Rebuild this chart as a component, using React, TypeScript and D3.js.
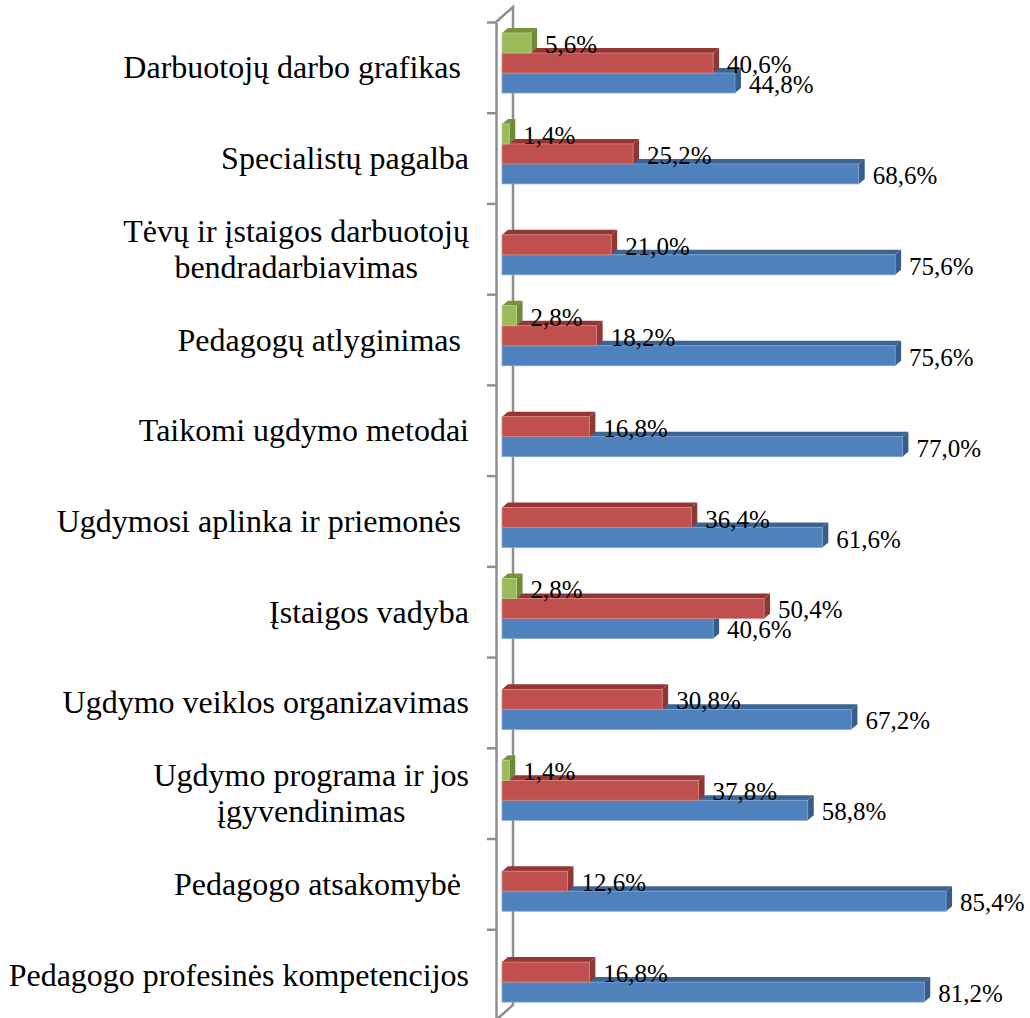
import React, { useEffect, useRef } from "react";
import * as d3 from "d3";

// category labels, top to bottom ("\n" = line break, trailing spaces kept as in source)
const categories = [
  "Darbuotojų darbo grafikas ",
  "Specialistų pagalba",
  "Tėvų ir įstaigos darbuotojų\nbendradarbiavimas",
  "Pedagogų atlyginimas ",
  "Taikomi ugdymo metodai",
  "Ugdymosi aplinka ir priemonės ",
  "Įstaigos vadyba",
  "Ugdymo veiklos organizavimas",
  "Ugdymo programa ir jos\nįgyvendinimas",
  "Pedagogo atsakomybė ",
  "Pedagogo profesinės kompetencijos",
];

// series values in %, null = no bar
const blueValues = [44.8, 68.6, 75.6, 75.6, 77.0, 61.6, 40.6, 67.2, 58.8, 85.4, 81.2];
const redValues = [40.6, 25.2, 21.0, 18.2, 16.8, 36.4, 50.4, 30.8, 37.8, 12.6, 16.8];
const greenValues = [5.6, 1.4, null, 2.8, null, null, 2.8, null, 1.4, null, null];

const seriesKeys = ["green", "red", "blue"];

const colors: Record<string, { front: string; top: string; side: string; edge: string }> = {
  blue: { front: "#4F81BD", top: "#3C6592", side: "#385D8A", edge: "#7FA2D0" },
  red: { front: "#C0504D", top: "#943634", side: "#8C3836", edge: "#D88583" },
  green: { front: "#9BBB59", top: "#76923C", side: "#6E8A39", edge: "#B9D18A" },
};

const fmt = (v: number) => v.toFixed(1).replace(".", ",") + "%";

export default function App() {
  const ref = useRef<SVGSVGElement>(null);

  useEffect(() => {
    const svg = d3.select(ref.current);
    svg.selectAll("*").remove();

    const width = 1030, height = 1018;
    const axisX = 496;
    const depthX = 17, depthY = 15; // wall depth
    const dx = 6, dy = 5; // bar depth
    const barH = 20;
    const fontFamily = "'Liberation Serif', 'Times New Roman', serif";

    const x = d3.scaleLinear().domain([0, 100]).range([502, 1022]);
    const yTick = d3.scaleBand().domain(categories).range([22, 1020]);
    const yBar = d3.scaleBand().domain(categories).range([33, 1033]);
    const ySeries = d3.scaleBand().domain(seriesKeys).range([0, barH * 3]);
    const yIdx = d3.scaleLinear().domain([0, categories.length]).range([22, 1020]);

    svg.append("rect").attr("width", width).attr("height", height).attr("fill", "#fff");

    // back wall edge
    const gray = "#8E8E8E";
    svg.append("path")
      .attr("d", `M${axisX},${yIdx(0)}L${axisX + depthX},${yIdx(0) - depthY}V${yIdx(categories.length) - depthY}L${axisX},${yIdx(categories.length)}`)
      .attr("fill", "none")
      .attr("stroke", gray)
      .attr("stroke-width", 2.5);

    // front axis with ticks between categories
    const axis = svg.append("g")
      .attr("transform", `translate(${axisX},0)`)
      .call(
        d3.axisLeft(yIdx)
          .tickValues(d3.range(0, categories.length))
          .tickSize(9)
          .tickSizeOuter(0)
          .tickFormat(() => "")
      );
    axis.selectAll("path, line").attr("stroke", gray).attr("stroke-width", 2.5);

    const valuesOf: Record<string, (number | null)[]> = {
      green: greenValues,
      red: redValues,
      blue: blueValues,
    };

    const bars: { key: string; cat: string; v: number }[] = [];
    // draw lower bars first so upper front faces cover their top faces
    categories.forEach((cat, i) => {
      ["blue", "red", "green"].forEach((key) => {
        const v = valuesOf[key][i];
        if (v != null) bars.push({ key, cat, v });
      });
    });

    const g = svg.append("g");
    bars.forEach((b) => {
      const c = colors[b.key];
      const x0 = x(0), x1 = x(b.v);
      const y = (yBar(b.cat) as number) + (ySeries(b.key) as number);
      g.append("path")
        .attr("d", `M${x0},${y}L${x0 + dx},${y - dy}H${x1 + dx}L${x1},${y}Z`)
        .attr("fill", c.top);
      g.append("path")
        .attr("d", `M${x1},${y}L${x1 + dx},${y - dy}V${y + barH - dy}L${x1},${y + barH}Z`)
        .attr("fill", c.side);
      g.append("rect")
        .attr("x", x0)
        .attr("y", y)
        .attr("width", x1 - x0)
        .attr("height", barH)
        .attr("fill", c.front)
        .attr("stroke", c.edge)
        .attr("stroke-width", 0.8);
    });

    // data labels
    const lg = svg.append("g")
      .attr("font-family", fontFamily)
      .attr("font-size", 25)
      .attr("fill", "#000");
    bars.forEach((b) => {
      const y = (yBar(b.cat) as number) + (ySeries(b.key) as number);
      lg.append("text")
        .attr("x", x(b.v) + 14)
        .attr("y", y + barH / 2 + 10)
        .text(fmt(b.v));
    });

    // category labels
    const cg = svg.append("g")
      .attr("font-family", fontFamily)
      .attr("font-size", 32)
      .attr("fill", "#000");
    const right = 469;
    categories.forEach((cat) => {
      const lines = cat.split("\n");
      const cy = (yTick(cat) as number) + yTick.bandwidth() / 2 + 11;
      const lineH = 36;
      if (lines.length === 1) {
        cg.append("text")
          .attr("xml:space", "preserve")
          .style("white-space", "pre")
          .attr("x", right)
          .attr("y", cy)
          .attr("text-anchor", "end")
          .text(cat);
      } else {
        const texts = lines.map((ln, j) =>
          cg.append("text")
            .attr("y", cy + (j - (lines.length - 1) / 2) * lineH)
            .attr("text-anchor", "middle")
            .text(ln)
        );
        const maxW = d3.max(texts, (t) => (t.node() as SVGTextElement).getComputedTextLength()) || 0;
        texts.forEach((t) => t.attr("x", right - maxW / 2));
      }
    });
  }, []);

  return (
    <svg
      ref={ref}
      width={1030}
      height={1018}
      style={{ position: "absolute", left: 0, top: 0 }}
    />
  );
}
